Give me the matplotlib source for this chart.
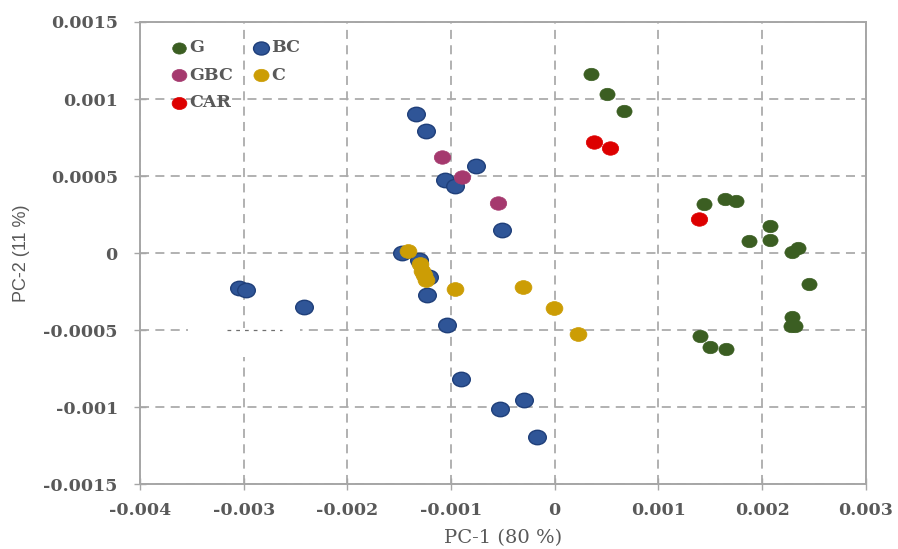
import numpy as np
import matplotlib
matplotlib.use('Agg')
import matplotlib.pyplot as plt
import matplotlib.patches as patches
from matplotlib.path import Path

# PCA scores
g_x = [0.00035, 0.00050, 0.00067, 0.00144, 0.00164, 0.00175, 0.00208, 0.00187, 0.00208,
       0.00235, 0.00229, 0.00245, 0.00229, 0.00228, 0.00232, 0.00140, 0.00150, 0.00165]
g_y = [0.00116, 0.00103, 0.00092, 0.00032, 0.00035, 0.00034, 0.000175, 0.000078, 0.000082,
       0.000032, 0.000005, -0.000203, -0.000414, -0.00047, -0.00047, -0.00054, -0.00061, -0.00062]

bc_x = [-0.00134, -0.00124, -0.00106, -0.00096, -0.00076, -0.00051, -0.00147, -0.00131,
        -0.00121, -0.00123, -0.00104, -0.00090, -0.00053, -0.00030, -0.00017, -0.00305,
        -0.00298, -0.00242]
bc_y = [0.00090, 0.00079, 0.000474, 0.000435, 0.000565, 0.000149, 0.000003, -0.000045,
        -0.000155, -0.000272, -0.000465, -0.00082, -0.00101, -0.000955, -0.001195, -0.000225,
        -0.000238, -0.000348]

gbc_x = [-0.00109, -0.00089, -0.00055]
gbc_y = [0.000623, 0.000495, 0.000325]

c_x = [-0.00142, -0.00130, -0.00128, -0.00126, -0.00124, -0.00096, -0.00031, -0.00001, 0.00022]
c_y = [0.000015, -0.000072, -0.000115, -0.000145, -0.000175, -0.000236, -0.000219, -0.000355, -0.000528]

car_x = [0.00038, 0.00053, 0.00139]
car_y = [0.000721, 0.00068, 0.000219]

x_ticks = [-0.004, -0.003, -0.002, -0.001, 0, 0.001, 0.002, 0.003]
x_labels = ['-0.004', '-0.003', '-0.002', '-0.001', '0', '0.001', '0.002', '0.003']
y_ticks = [-0.0015, -0.001, -0.0005, 0, 0.0005, 0.001, 0.0015]
y_labels = ['-0.0015', '-0.001', '-0.0005', '0', '0.0005', '0.001', '0.0015']

TICK_FONT = {'family': 'DejaVu Serif', 'size': 12.5, 'weight': 'bold'}

# slightly flattened ellipse marker
circ = Path.unit_circle()
ellipse = Path(circ.vertices * np.array([1.0, 0.82]), circ.codes)

fig, ax = plt.subplots(figsize=(8.98, 5.49), dpi=100)
fig.subplots_adjust(left=0.156, right=0.964, top=0.960, bottom=0.118)

ax.set_xlim(-0.004, 0.003)
ax.set_ylim(-0.0015, 0.0015)
ax.set_xticks(x_ticks)
ax.set_xticklabels(x_labels)
ax.set_yticks(y_ticks)
ax.set_yticklabels(y_labels)
ax.grid(True, ls=(0, (5, 3.5)), color='#ababab', lw=1.3)
ax.set_axisbelow(True)

# blank patch present in the original figure
ax.add_patch(patches.Rectangle((-0.00354, -0.000675), 0.00108, 0.000188,
                               facecolor='white', edgecolor='none', zorder=1.5))
ax.plot([-0.00316, -0.00263], [-0.0005, -0.0005], ls=(0, (3, 4)), color='#707070', lw=0.9, zorder=1.6)

s = 140
h_bc = ax.scatter(bc_x, bc_y, marker=ellipse, s=s * 1.15, c='#2f5597', edgecolors='#1f3f7a', linewidths=1.0, zorder=3, label='BC')
h_g = ax.scatter(g_x, g_y, marker=ellipse, s=s * 0.85, c='#3b5e22', edgecolors='#3b5e22', linewidths=0.5, zorder=3, label='G')
h_gbc = ax.scatter(gbc_x, gbc_y, marker=ellipse, s=s, c='#a5396e', edgecolors='#a5396e', linewidths=0.5, zorder=3, label='GBC')
h_c = ax.scatter(c_x, c_y, marker=ellipse, s=s * 1.05, c='#cc9d05', edgecolors='#cc9d05', linewidths=0.5, zorder=3, label='C')
h_car = ax.scatter(car_x, car_y, marker=ellipse, s=s, c='#dd0000', edgecolors='#dd0000', linewidths=0.5, zorder=3, label='CAR')

leg = ax.legend(handles=[h_g, h_gbc, h_car, h_bc, h_c], ncol=2, loc='upper left',
                bbox_to_anchor=(0.022, 0.996), frameon=False, handlelength=0.8,
                handletextpad=0.2, columnspacing=1.2, labelspacing=0.6, markerscale=0.9,
                prop={'family': 'DejaVu Serif', 'size': 12.5, 'weight': 'bold'})
for t in leg.get_texts():
    t.set_color('#595959')

for sp in ax.spines.values():
    sp.set_color('#a6a6a6')
    sp.set_linewidth(1.4)
ax.tick_params(axis='both', direction='inout', length=8, color='#a6a6a6', width=1.0)
ax.tick_params(axis='x', pad=9)
ax.tick_params(axis='y', pad=12)
for lbl in ax.get_xticklabels() + ax.get_yticklabels():
    lbl.set_fontproperties(TICK_FONT)
    lbl.set_color('#595959')

ax.set_xlabel('PC-1 (80 %)', fontfamily='DejaVu Serif', fontsize=14, color='#595959')
ax.xaxis.set_label_coords(0.5, -0.098)
ax.set_ylabel('PC-2 (11 %)', fontfamily='Liberation Sans', fontsize=13, color='#595959')
ax.yaxis.set_label_coords(-0.152, 0.5)

fig.savefig('out.png', dpi=100)
